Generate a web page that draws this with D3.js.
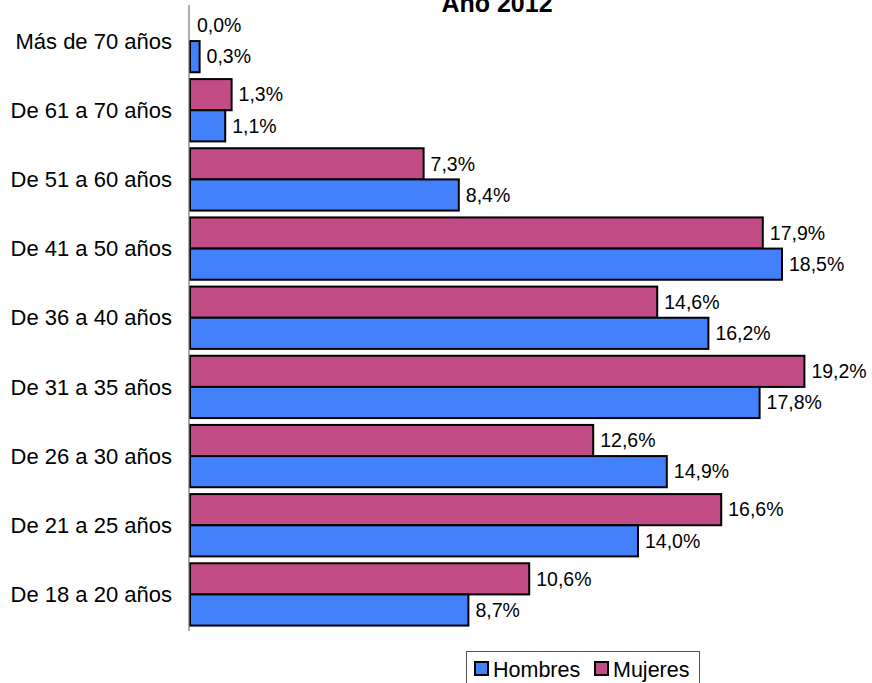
<!DOCTYPE html>
<html><head><meta charset="utf-8">
<script src="https://cdn.jsdelivr.net/npm/d3@7"></script>
<style>body{margin:0;background:#fff}svg{display:block;font-family:"Liberation Sans",Arial,sans-serif}</style>
</head><body>
<script>
const categories = ["Más de 70 años","De 61 a 70 años","De 51 a 60 años","De 41 a 50 años","De 36 a 40 años","De 31 a 35 años","De 26 a 30 años","De 21 a 25 años","De 18 a 20 años"];
const hombres = [0.3,1.1,8.4,18.5,16.2,17.8,14.9,14.0,8.7];
const mujeres = [0.0,1.3,7.3,17.9,14.6,19.2,12.6,16.6,10.6];
const seriesNames = ["Mujeres","Hombres"];
const colors = {Hombres:"#4281fb", Mujeres:"#c44c86"};
const title = "Año 2012";

const W=872,H=683;
const svg=d3.select("body").append("svg").attr("width",W).attr("height",H);
const x0=190;
const x=d3.scaleLinear().domain([0,10]).range([x0,x0+320]);
const y=d3.scaleBand().domain(categories).range([6.5,629]).paddingInner(0).paddingOuter(0);
const inner=d3.scaleBand().domain(seriesNames).range([0,y.bandwidth()]).paddingInner(0).paddingOuter(0.11);

const data=[];
categories.forEach((c,i)=>{
  data.push({cat:c,s:"Mujeres",v:mujeres[i]});
  data.push({cat:c,s:"Hombres",v:hombres[i]});
});
const fmt=v=>v.toFixed(1).replace(".",",")+"%";

svg.append("text").attr("x",497).attr("y",12).attr("text-anchor","middle")
  .attr("font-size",25).attr("font-weight","bold").text(title);

svg.selectAll("rect.bar").data(data.filter(d=>d.v>0)).join("rect").attr("class","bar")
  .attr("x",x(0)).attr("y",d=>y(d.cat)+inner(d.s))
  .attr("width",d=>x(d.v)-x(0)).attr("height",inner.bandwidth())
  .attr("fill",d=>colors[d.s]).attr("stroke","#000").attr("stroke-width",2);

svg.selectAll("text.val").data(data).join("text").attr("class","val")
  .attr("x",d=>x(d.v)+7).attr("y",d=>y(d.cat)+inner(d.s)+inner.bandwidth()/2)
  .attr("dy","0.35em").attr("font-size",19.5).attr("fill","#000").text(d=>fmt(d.v));

// axis
svg.append("line").attr("x1",189).attr("x2",189).attr("y1",5).attr("y2",631)
  .attr("stroke","#777").attr("stroke-width",1.2);
svg.selectAll("text.cat").data(categories).join("text").attr("class","cat")
  .attr("x",172).attr("y",d=>y(d)+y.bandwidth()/2).attr("dy","0.35em")
  .attr("text-anchor","end").attr("font-size",22).text(d=>d);

// legend
const lg=svg.append("g");
lg.append("rect").attr("x",466.5).attr("y",651.5).attr("width",233).attr("height",40)
  .attr("fill","#fff").attr("stroke","#555").attr("stroke-width",1);
const items=[{n:"Hombres",x:475},{n:"Mujeres",x:595}];
items.forEach(it=>{
  lg.append("rect").attr("x",it.x).attr("y",662).attr("width",13).attr("height",13)
    .attr("fill",colors[it.n]).attr("stroke","#000").attr("stroke-width",2);
  lg.append("text").attr("x",it.x+18).attr("y",669).attr("dy","0.35em").attr("font-size",21.5).text(it.n);
});
</script>
</body></html>
